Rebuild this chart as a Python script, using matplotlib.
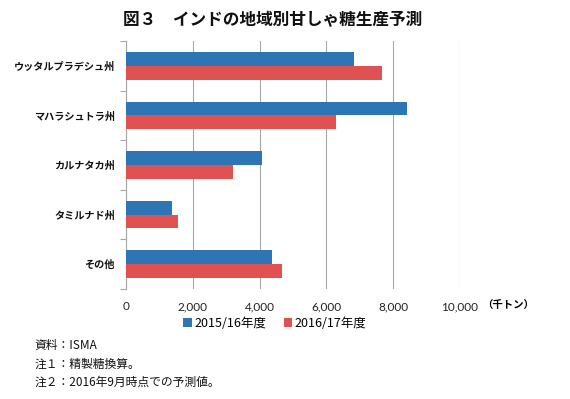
import numpy as np
import matplotlib
matplotlib.use("Agg")
import matplotlib.pyplot as plt

plt.rcParams['font.family'] = ['Noto Sans CJK JP', 'DejaVu Sans']

# data (千トン)
regions = ["ウッタルプラデシュ州", "マハラシュトラ州", "カルナタカ州", "タミルナド州", "その他"]
fy2015 = [6830, 8410, 4080, 1390, 4380]
fy2016 = [7670, 6280, 3190, 1560, 4680]
series_labels = ["2015/16年度", "2016/17年度"]
xticks = [0, 2000, 4000, 6000, 8000, 10000]

BLUE = "#2e75b6"
RED = "#e05252"
GRID = "#a6a6a6"

fig = plt.figure(figsize=(5.7, 3.99), dpi=100)
ax = fig.add_axes([0.221, 0.276, 0.586, 0.621])

y = np.arange(len(regions))
h = 0.28
ax.barh(y - h / 2, fy2015, height=h, color=BLUE, label=series_labels[0], zorder=3)
ax.barh(y + h / 2, fy2016, height=h, color=RED, label=series_labels[1], zorder=3)

ax.set_xlim(0, 10000)
ax.set_ylim(len(regions) - 0.5, -0.5)
ax.set_xticks(xticks)
ax.set_xticklabels([f"{v:,}" for v in xticks], fontsize=8.5, color="#222222",
                   family=["Lato", "DejaVu Sans"])
ax.tick_params(axis="x", length=0, pad=9)
ax.grid(axis="x", color=GRID, linewidth=0.8, zorder=0)

# category labels + boundary ticks
ax.set_yticks(y)
ax.set_yticklabels(regions, fontsize=7.3, fontweight="bold", color="#111111")
ax.tick_params(axis="y", length=0, pad=8)
ax.set_yticks(np.arange(-0.5, len(regions)), minor=True)
ax.tick_params(axis="y", which="minor", length=4, color=GRID, width=0.8)

for side in ["top", "right", "bottom"]:
    ax.spines[side].set_visible(False)
ax.spines["left"].set_color(GRID)
ax.spines["left"].set_linewidth(0.8)

fig.text(0.478, 0.950, "図３　インドの地域別甘しゃ糖生産予測", ha="center", va="center",
         fontsize=12, fontweight="bold", color="#111111")
fig.text(0.845, 0.236, "（千トン）", ha="left", va="center", fontsize=7.5, fontweight="bold")

fig.legend(loc="center", bbox_to_anchor=(0.482, 0.190), ncol=2, frameon=False,
           handlelength=0.7, handleheight=0.7, handletextpad=0.2,
           columnspacing=1.4, prop={"size": 9})

notes = ["資料：ISMA", "注１：精製糖換算。", "注２：2016年9月時点での予測値。"]
for i, t in enumerate(notes):
    fig.text(0.060, 0.133 - i * 0.045, t, ha="left", va="center", fontsize=8.5, color="#111111")

fig.savefig("out.png", dpi=100)
